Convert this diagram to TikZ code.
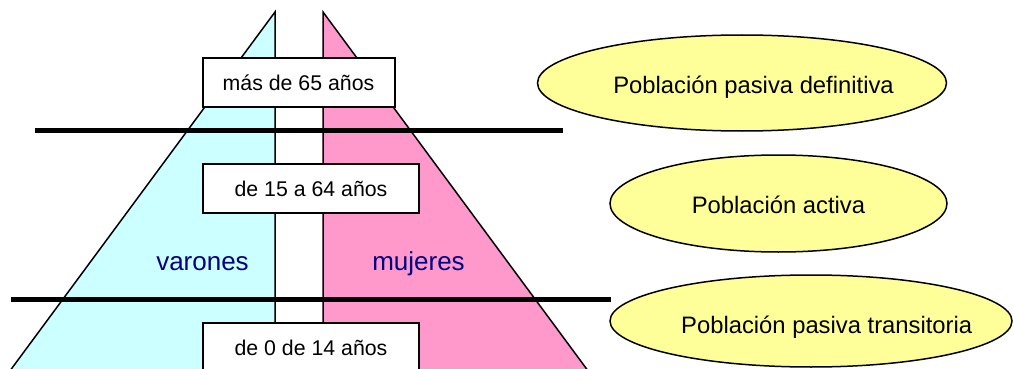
\documentclass[tikz,border=0pt]{standalone}
\usepackage{fontspec}
\setmainfont{Liberation Sans}
\usetikzlibrary{shapes.geometric}
\definecolor{cyanfill}{HTML}{CCFFFF}
\definecolor{pinkfill}{HTML}{FF99CC}
\definecolor{yellowfill}{HTML}{FFFF99}
\definecolor{navytext}{HTML}{000080}
\tikzset{
  tri/.style={draw=black, line width=1.5pt, line join=miter},
  agebox/.style={draw=black, fill=white, line width=2pt},
  agetext/.style={inner sep=0pt, anchor=base, font=\fontsize{21.3}{24}\selectfont},
  sextext/.style={inner sep=0pt, anchor=base, text=navytext, font=\fontsize{26}{30}\selectfont},
  divider/.style={line width=5pt, draw=black},
  popell/.style={ellipse, draw=black, fill=yellowfill, line width=1.5pt, inner sep=0pt},
  poptext/.style={inner sep=0pt, anchor=base, font=\fontsize{23.8}{27}\selectfont}
}
\begin{document}
\begin{tikzpicture}[x=1pt, y=-1pt]
\useasboundingbox (0,0) rectangle (1013,369);
\clip (0,0) rectangle (1013,369);
% triangles
\fill[cyanfill] (275,12) -- (275,380) -- (3.2,380) -- cycle;
\draw[tri] (3.2,380) -- (275,12) -- (275,380);
\fill[pinkfill] (323,12) -- (323,380) -- (594.8,380) -- cycle;
\draw[tri] (594.8,380) -- (323,12) -- (323,380);
% age boxes
\draw[agebox] (203,58) rectangle (395,107);
\node[agetext] (t1) at (298.5,90.7) {más de 65 años};
\draw[agebox] (203,164) rectangle (419,213);
\node[agetext] (t2) at (311,196) {de 15 a 64 años};
\draw[agebox] (203,323) rectangle (419,390);
\node[agetext] (t3) at (311,355) {de 0 de 14 años};
% sex labels
\node[sextext] (v) at (202.5,270.7) {varones};
\node[sextext] (m) at (418.5,270.7) {mujeres};
% dividers
\coordinate (d1a) at (35,130.5);
\coordinate (d1b) at (563,130.5);
\coordinate (d2a) at (11,299);
\coordinate (d2b) at (611,299);
\draw[divider] (d1a) -- (d1b);
\draw[divider] (d2a) -- (d2b);
% ellipses
\node[popell, minimum width=409pt, minimum height=96pt] (e1) at (742,83) {};
\node[poptext] (p1) at (753.5,93.5) {Población pasiva definitiva};
\node[popell, minimum width=337pt, minimum height=97pt] (e2) at (778.5,203.5) {};
\node[poptext] (p2) at (778.5,213.3) {Población activa};
\node[popell, minimum width=402pt, minimum height=92pt] (e3) at (811,321) {};
\node[poptext] (p3) at (826.7,333.3) {Población pasiva transitoria};
\end{tikzpicture}
\end{document}
